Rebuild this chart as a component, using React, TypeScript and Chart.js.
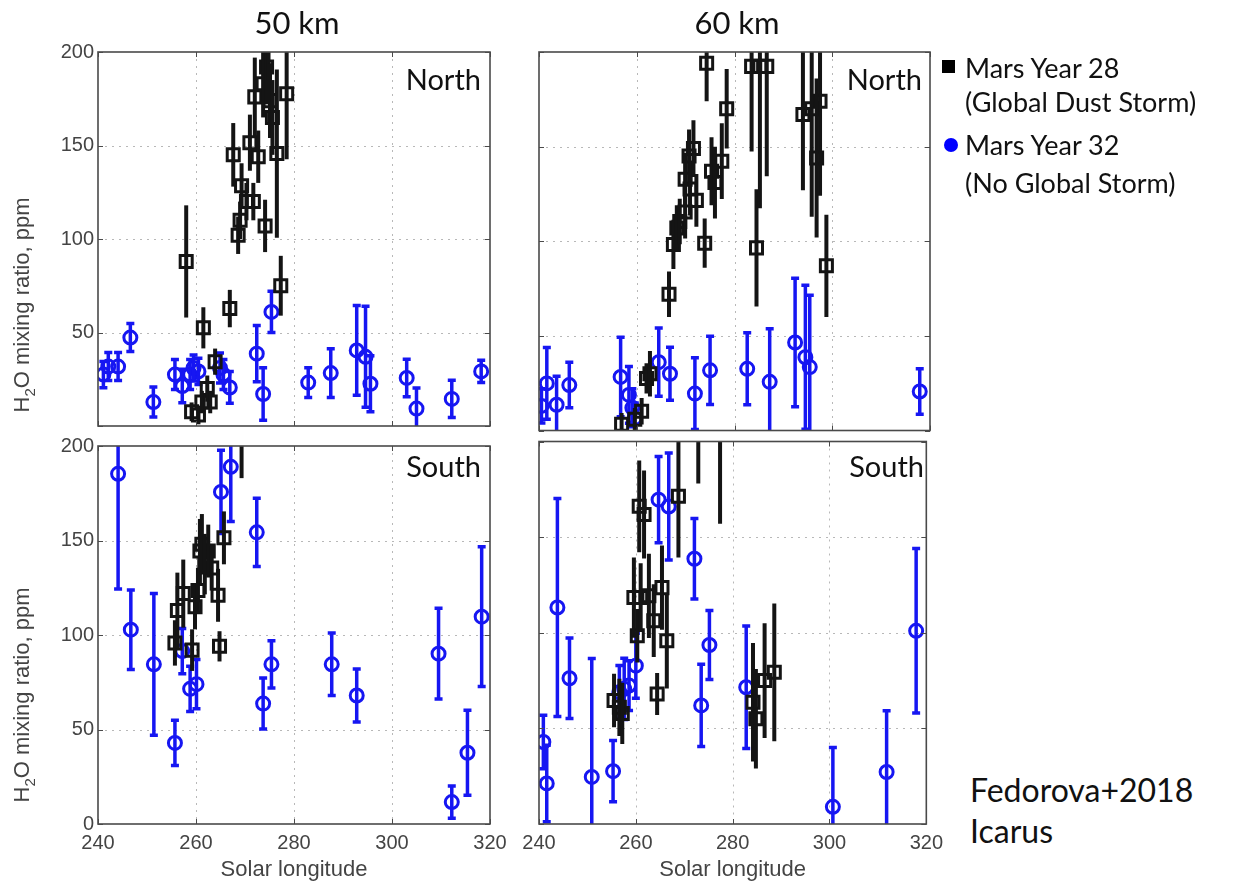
import React, { useEffect, useRef } from "react";
import { Chart, registerables } from "chart.js";

Chart.register(...registerables);

// Axis ranges and tick positions shared by all four panels
const LS_MIN = 240;
const LS_MAX = 320;
const H2O_MIN = 0;
const H2O_MAX = 200;
const X_TICKS = [240, 260, 280, 300, 320];
const Y_TICKS = [0, 50, 100, 150, 200];

// ---- 50 km, North ----
const n50My28Ls = [258, 259.1, 260.5, 261.2, 261.5, 262.3, 262.9, 263.9, 266.9, 267.6, 268.6, 269, 269.3, 270.3, 271, 271.7, 272, 272.7, 273.7, 274.1, 274.4, 274.8, 275.1, 275.6, 276.5, 277.3, 278.5];
const n50My28H2o = [88, 7.6, 5.9, 12.8, 52.5, 20, 12.8, 34.4, 62.8, 145, 102, 110, 128.5, 120, 151.5, 120, 176, 144, 183, 107, 192, 205, 174, 165, 145.7, 75, 177.7];
const n50My28Err = [30, 5, 5, 6, 11, 7, 6, 7, 10, 17, 10, 10, 12, 10, 15, 10, 21, 14, 18, 14, 20, 20, 20, 20, 45, 16, 35];
const n50My32Ls = [241.1, 242.1, 244.1, 246.6, 251.3, 255.7, 257.2, 258.8, 259.5, 260.5, 264.9, 265.6, 266.9, 272.4, 273.7, 275.4, 282.9, 287.5, 292.8, 294.6, 295.6, 303, 305, 312.2, 318.2];
const n50My32H2o = [27.5, 31.8, 31.8, 47.3, 12.8, 27.5, 21.4, 27.5, 31, 29.2, 31, 27.5, 20.6, 38.7, 17.1, 61, 23.2, 28.3, 40.4, 37, 22.6, 25.7, 9.3, 14.5, 29.2];
const n50My32Err = [7, 7.5, 7.5, 7.5, 8, 8, 9, 8, 7, 7, 8, 8, 8.5, 15, 14, 11, 8, 13, 24, 27, 15, 10, 11, 10, 6];

// ---- 60 km, North ----
const n60My28Ls = [256.9, 259.6, 261, 262, 262.7, 266.6, 267.5, 268.2, 268.8, 269.9, 269.9, 270.7, 270.9, 271.6, 272.2, 273.9, 274.3, 275.3, 276, 277.4, 278.4, 283.5, 284.5, 285.2, 286.6, 294, 295.8, 296.8, 297.5, 298.8];
const n60My28H2o = [3.3, 5.9, 10.2, 27.5, 30, 72, 98.3, 107, 110.4, 115.5, 132.8, 145, 127.6, 149, 121.6, 99, 194, 137, 131, 142.3, 170, 192.4, 96.5, 192.4, 192.4, 167, 170, 144, 174, 87];
const n60My28Err = [6, 6, 7, 8, 12, 12, 13, 12, 12, 14, 14, 14, 14, 15, 14, 13, 20, 18, 19, 20, 21, 45, 31, 75, 58, 40, 57, 42, 50, 27];
const n60My32Ls = [240.5, 241.6, 243.6, 246.2, 256.7, 258.4, 259.1, 259.6, 264.5, 266.8, 271.9, 275, 282.6, 287.2, 292.4, 294.5, 295.4, 317.9];
const n60My32H2o = [13, 24.9, 13.6, 24, 28.3, 18.8, 12, 6.5, 36.1, 30, 19.5, 31.8, 32.6, 25.7, 46.5, 38.7, 33.5, 20.6];
const n60My32Err = [9, 19, 15, 12, 21, 15, 10, 8, 18, 14, 19, 18, 19, 28, 34, 38, 38, 12];

// ---- 50 km, South ----
const s50My28Ls = [255.7, 256.2, 257.4, 259.2, 259.8, 260.4, 260.8, 261.2, 261.8, 262.5, 263.2, 264.5, 264.8, 265.7, 269.3];
const s50My28H2o = [95.8, 113, 121.9, 92, 115, 123.6, 144.4, 148, 137.5, 144.4, 135.5, 121, 94, 151.4, 215];
const s50My28Err = [12, 20, 18, 11, 12, 12, 17, 16, 16, 14, 12, 14, 8, 14, 32];
const s50My32Ls = [244.1, 246.7, 251.4, 255.7, 257.2, 258.8, 260.1, 265.1, 267.1, 272.4, 273.7, 275.4, 287.7, 292.8, 309.5, 312.2, 315.4, 318.3];
const s50My32H2o = [185.3, 102.8, 84.5, 42.9, 91.5, 71.5, 74, 175.7, 189, 154.3, 63.7, 84.5, 84.5, 68, 90.1, 11.6, 37.7, 109.7];
const s50My32Err = [61, 21, 37.5, 12, 12, 12, 13, 22, 29, 18, 13.5, 12.5, 16.5, 14, 24, 8.5, 22.5, 37];

// ---- 60 km, South ----
const s60My28Ls = [255.5, 256.6, 257.2, 259.6, 260.3, 260.7, 261, 261.7, 262.7, 263.7, 264.4, 265.4, 266.4, 268.8, 272.9, 277.4, 284.2, 284.8, 286.6, 288.6];
const s60My28H2o = [64.6, 61, 57.8, 118.4, 98.4, 166.1, 118.4, 161.8, 119.3, 106.3, 68, 123.6, 95.8, 171.4, 220, 215, 63.7, 55, 75, 79.3];
const s60My28Err = [14, 15, 16, 21, 14, 24, 18, 23, 22, 19, 11, 22, 25, 32, 42, 58, 31, 26, 30, 36];
const s60My32Ls = [240.9, 241.6, 243.8, 246.3, 250.9, 255.3, 256.6, 257.6, 258.6, 260, 264.7, 266.8, 272.1, 273.5, 275.2, 282.8, 300.7, 311.8, 317.9];
const s60My32H2o = [42.9, 21.2, 113.2, 76.2, 24.6, 27.6, 68.9, 70.7, 72.4, 82.8, 169.6, 166, 138.7, 62, 93.6, 71.5, 9, 27.2, 101];
const s60My32Err = [14, 20, 57, 21, 62, 16, 14, 16, 13, 17, 22.5, 28, 21, 21.5, 18, 32, 31, 32, 43];

const BLACK = "#141414";
const BLUE = "#1616f2";
const TICK_FONT = "'Liberation Sans', Arial, sans-serif";
const TEXT_FONT = "Lato, 'Noto Sans', sans-serif";

type Series = { ls: number[]; h2o: number[]; err: number[] };

// Grid, error bars, frame and inward tick marks, all placed through the chart's scales
const panelDecor = {
  id: "panelDecor",
  beforeDatasetsDraw(chart: any) {
    const { ctx, chartArea: a } = chart;
    const xs = chart.scales.x;
    const ys = chart.scales.y;
    ctx.save();
    ctx.strokeStyle = "#b8b8b8";
    ctx.lineWidth = 1;
    ctx.setLineDash([2, 5]);
    X_TICKS.forEach((v) => {
      if (v === LS_MIN || v === LS_MAX) return;
      const px = Math.round(xs.getPixelForValue(v)) + 0.5;
      ctx.beginPath();
      ctx.moveTo(px, a.top);
      ctx.lineTo(px, a.bottom);
      ctx.stroke();
    });
    Y_TICKS.forEach((v) => {
      if (v === H2O_MIN || v === H2O_MAX) return;
      const py = Math.round(ys.getPixelForValue(v)) + 0.5;
      ctx.beginPath();
      ctx.moveTo(a.left, py);
      ctx.lineTo(a.right, py);
      ctx.stroke();
    });
    ctx.restore();
  },
  afterDatasetDraw(chart: any, args: any) {
    const ds: any = chart.data.datasets[args.index];
    if (!ds.errors) return;
    const { ctx, chartArea: a } = chart;
    const xs = chart.scales.x;
    const ys = chart.scales.y;
    ctx.save();
    ctx.beginPath();
    ctx.rect(a.left, a.top, a.right - a.left, a.bottom - a.top);
    ctx.clip();
    ctx.strokeStyle = ds.borderColor;
    ctx.lineWidth = ds.errWidth;
    ctx.lineCap = "butt";
    ds.data.forEach((p: any, i: number) => {
      const e = ds.errors[i];
      const px = xs.getPixelForValue(p.x);
      const y1 = ys.getPixelForValue(p.y + e);
      const y2 = ys.getPixelForValue(p.y - e);
      ctx.beginPath();
      ctx.moveTo(px, y1);
      ctx.lineTo(px, y2);
      if (ds.errCap > 0) {
        ctx.moveTo(px - ds.errCap, y1);
        ctx.lineTo(px + ds.errCap, y1);
        ctx.moveTo(px - ds.errCap, y2);
        ctx.lineTo(px + ds.errCap, y2);
      }
      ctx.stroke();
    });
    ctx.restore();
  },
  afterDraw(chart: any) {
    const { ctx, chartArea: a } = chart;
    const xs = chart.scales.x;
    const ys = chart.scales.y;
    ctx.save();
    ctx.strokeStyle = "#4a4a4a";
    ctx.lineWidth = 1.6;
    ctx.strokeRect(a.left, a.top, a.right - a.left, a.bottom - a.top);
    ctx.lineWidth = 1;
    const t = 5;
    X_TICKS.forEach((v) => {
      const px = Math.round(xs.getPixelForValue(v)) + 0.5;
      ctx.beginPath();
      ctx.moveTo(px, a.bottom);
      ctx.lineTo(px, a.bottom - t);
      ctx.moveTo(px, a.top);
      ctx.lineTo(px, a.top + t);
      ctx.stroke();
    });
    Y_TICKS.forEach((v) => {
      const py = Math.round(ys.getPixelForValue(v)) + 0.5;
      ctx.beginPath();
      ctx.moveTo(a.left, py);
      ctx.lineTo(a.left + t, py);
      ctx.moveTo(a.right, py);
      ctx.lineTo(a.right - t, py);
      ctx.stroke();
    });
    ctx.restore();
  },
};

type PanelProps = {
  left: number;
  top: number;
  width: number;
  height: number;
  padding: { top: number; right: number; bottom: number; left: number };
  showY: boolean;
  showX: boolean;
  hideZero: boolean;
  my28: Series;
  my32: Series;
};

function Panel(props: PanelProps) {
  const ref = useRef<HTMLCanvasElement | null>(null);
  useEffect(() => {
    if (!ref.current) return;
    const toPts = (s: Series) => s.ls.map((x, i) => ({ x, y: s.h2o[i] }));
    const chart = new Chart(ref.current, {
      type: "scatter",
      data: {
        datasets: [
          {
            label: "Mars Year 28 (Global Dust Storm)",
            data: toPts(props.my28),
            errors: props.my28.err,
            errWidth: 4,
            errCap: 0,
            pointStyle: "rect",
            pointRadius: 8.5,
            borderWidth: 3,
            borderColor: BLACK,
            backgroundColor: "rgba(0,0,0,0)",
            clip: 0,
          } as any,
          {
            label: "Mars Year 32 (No Global Storm)",
            data: toPts(props.my32),
            errors: props.my32.err,
            errWidth: 3.5,
            errCap: 4,
            pointStyle: "circle",
            pointRadius: 6.5,
            borderWidth: 3,
            borderColor: BLUE,
            backgroundColor: "rgba(0,0,0,0)",
            clip: 0,
          } as any,
        ],
      },
      options: {
        animation: false,
        responsive: false,
        devicePixelRatio: 1,
        layout: { padding: props.padding },
        plugins: { legend: { display: false }, tooltip: { enabled: false } },
        scales: {
          x: {
            type: "linear",
            min: LS_MIN,
            max: LS_MAX,
            display: props.showX,
            grid: { display: false, drawTicks: false },
            border: { display: false },
            afterBuildTicks: (s: any) => {
              s.ticks = X_TICKS.map((v) => ({ value: v }));
            },
            afterFit: (s: any) => {
              s.height = props.showX ? 60 : 0;
            },
            ticks: {
              padding: 7,
              color: "#444",
              font: { family: TICK_FONT, size: 20 },
            },
            title: {
              display: true,
              text: "Solar longitude",
              color: "#444",
              padding: { top: 0, bottom: 1 },
              font: { family: TICK_FONT, size: 22 },
            },
          },
          y: {
            type: "linear",
            min: H2O_MIN,
            max: H2O_MAX,
            display: props.showY,
            grid: { display: false, drawTicks: false },
            border: { display: false },
            afterBuildTicks: (s: any) => {
              s.ticks = Y_TICKS.map((v) => ({ value: v }));
            },
            afterFit: (s: any) => {
              s.width = props.showY ? 98 : 0;
            },
            ticks: {
              padding: 4,
              color: "#444",
              font: { family: TICK_FONT, size: 20 },
              callback: (v: any) => (props.hideZero && v === 0 ? "" : String(v)),
            },
          },
        },
      } as any,
      plugins: [panelDecor],
    });
    return () => chart.destroy();
  }, []);
  return (
    <canvas
      ref={ref}
      width={props.width}
      height={props.height}
      style={{ position: "absolute", left: props.left, top: props.top, width: props.width, height: props.height }}
    />
  );
}

const textStyle = (extra: React.CSSProperties): React.CSSProperties => ({
  position: "absolute",
  whiteSpace: "nowrap",
  fontFamily: TEXT_FONT,
  color: "#111",
  lineHeight: 1,
  ...extra,
});

function YTitle({ cy }: { cy: number }) {
  return (
    <div
      style={{
        position: "absolute",
        left: 24,
        top: cy,
        transform: "translate(-50%, -50%) rotate(-90deg)",
        whiteSpace: "nowrap",
        fontFamily: TICK_FONT,
        fontSize: 22,
        color: "#444",
        lineHeight: 1,
      }}
    >
      H<sub style={{ fontSize: 15 }}>2</sub>O mixing ratio, ppm
    </div>
  );
}

export default function App() {
  const topPad = { top: 22, right: 30, bottom: 4, left: 0 };
  const topPadR = { top: 22, right: 20, bottom: 4, left: 34 };
  const botPad = { top: 10, right: 30, bottom: 0, left: 0 };
  const botPadR = { top: 10, right: 20, bottom: 0, left: 34 };
  return (
    <div
      style={{
        position: "absolute",
        left: 0,
        top: 0,
        width: 1251,
        height: 884,
        overflow: "hidden",
        background: "#fff",
      }}
    >
      <Panel left={0} top={30} width={520} height={412} padding={topPad} showY={true} showX={false} hideZero={true}
        my28={{ ls: n50My28Ls, h2o: n50My28H2o, err: n50My28Err }}
        my32={{ ls: n50My32Ls, h2o: n50My32H2o, err: n50My32Err }} />
      <Panel left={505} top={30} width={445} height={412} padding={topPadR} showY={false} showX={false} hideZero={true}
        my28={{ ls: n60My28Ls, h2o: n60My28H2o, err: n60My28Err }}
        my32={{ ls: n60My32Ls, h2o: n60My32H2o, err: n60My32Err }} />
      <Panel left={0} top={430} width={520} height={454} padding={botPad} showY={true} showX={true} hideZero={false}
        my28={{ ls: s50My28Ls, h2o: s50My28H2o, err: s50My28Err }}
        my32={{ ls: s50My32Ls, h2o: s50My32H2o, err: s50My32Err }} />
      <Panel left={505} top={430} width={445} height={454} padding={botPadR} showY={false} showX={true} hideZero={false}
        my28={{ ls: s60My28Ls, h2o: s60My28H2o, err: s60My28Err }}
        my32={{ ls: s60My32Ls, h2o: s60My32H2o, err: s60My32Err }} />

      <div style={textStyle({ left: 297, top: 22, fontSize: 31, transform: "translate(-50%, -50%)" })}>50 km</div>
      <div style={textStyle({ left: 737, top: 22, fontSize: 31, transform: "translate(-50%, -50%)" })}>60 km</div>

      <div style={textStyle({ right: 1251 - 481, top: 78, fontSize: 29, transform: "translateY(-50%)" })}>North</div>
      <div style={textStyle({ right: 1251 - 922, top: 78, fontSize: 29, transform: "translateY(-50%)" })}>North</div>
      <div style={textStyle({ right: 1251 - 481, top: 465, fontSize: 29, transform: "translateY(-50%)" })}>South</div>
      <div style={textStyle({ right: 1251 - 924, top: 465, fontSize: 29, transform: "translateY(-50%)" })}>South</div>

      <YTitle cy={305} />
      <YTitle cy={695} />

      <div style={{ position: "absolute", left: 942, top: 60, width: 13, height: 13, background: "#000" }} />
      <div style={textStyle({ left: 965, top: 67, fontSize: 27, transform: "translateY(-50%)" })}>Mars Year 28</div>
      <div style={textStyle({ left: 965, top: 101, fontSize: 27, transform: "translateY(-50%)" })}>(Global Dust Storm)</div>
      <div style={{ position: "absolute", left: 944, top: 138, width: 14, height: 14, borderRadius: 7, background: "#0000ff" }} />
      <div style={textStyle({ left: 965, top: 144, fontSize: 27, transform: "translateY(-50%)" })}>Mars Year 32</div>
      <div style={textStyle({ left: 965, top: 182, fontSize: 27, transform: "translateY(-50%)" })}>(No Global Storm)</div>

      <div style={textStyle({ left: 970, top: 790, fontSize: 32, transform: "translateY(-50%)" })}>Fedorova+2018</div>
      <div style={textStyle({ left: 970, top: 831, fontSize: 32, transform: "translateY(-50%)" })}>Icarus</div>
    </div>
  );
}
